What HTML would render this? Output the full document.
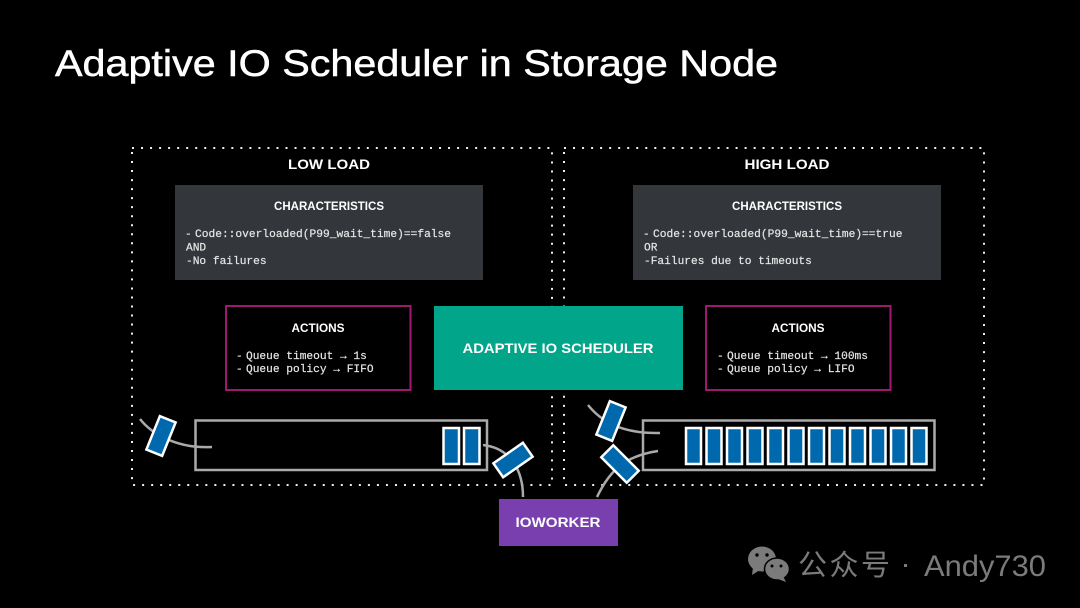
<!DOCTYPE html>
<html><head><meta charset="utf-8"><style>
html,body{margin:0;padding:0;background:#000;width:1080px;height:608px;overflow:hidden}
svg{display:block}
text{font-family:"Liberation Sans","Noto Sans CJK SC",sans-serif;fill:#fff}
.b{font-weight:bold}
.m{font-family:"Liberation Mono",monospace;font-size:11.2px;fill:#e6e6e6;stroke:#e6e6e6;stroke-width:.2}
.q{fill:#0068ad;stroke:#fff;stroke-width:2.5}
.c{fill:none;stroke:#aaa;stroke-width:2.5}
.d{fill:none;stroke:#eee;stroke-width:2;stroke-dasharray:2 7.03}
</style></head><body>
<svg width="1080" height="608" viewBox="0 0 1080 608" xmlns="http://www.w3.org/2000/svg">
<rect width="1080" height="608" fill="#000"/>
<text x="55" y="76" font-size="37" textLength="723" lengthAdjust="spacingAndGlyphs" stroke="#fff" stroke-width=".5">Adaptive IO Scheduler in Storage Node</text>

<path class="d" d="M132 148H552V485H132Z"/>
<path class="d" d="M564 148H984V485H564Z"/>

<text class="b" x="329" y="169" font-size="14" text-anchor="middle" textLength="82" lengthAdjust="spacingAndGlyphs">LOW LOAD</text>
<text class="b" x="787" y="169" font-size="14" text-anchor="middle" textLength="85" lengthAdjust="spacingAndGlyphs">HIGH LOAD</text>

<rect x="175" y="185" width="308" height="95" fill="#33363a"/>
<text class="b" x="329" y="210" font-size="11.5" text-anchor="middle" textLength="110" lengthAdjust="spacingAndGlyphs">CHARACTERISTICS</text>
<text class="m" x="185" y="237">-</text>
<text class="m" x="195" y="237" textLength="256">Code::overloaded(P99_wait_time)==false</text>
<text class="m" x="186" y="250.500">AND</text>
<text class="m" x="186" y="264">-No failures</text>

<rect x="633" y="185" width="308" height="95" fill="#33363a"/>
<text class="b" x="787" y="210" font-size="11.5" text-anchor="middle" textLength="110" lengthAdjust="spacingAndGlyphs">CHARACTERISTICS</text>
<text class="m" x="643" y="237">-</text>
<text class="m" x="653" y="237" textLength="249.500">Code::overloaded(P99_wait_time)==true</text>
<text class="m" x="644" y="250.500">OR</text>
<text class="m" x="644" y="264">-Failures due to timeouts</text>

<rect x="226" y="306" width="184.500" height="84" fill="#000" stroke="#a2176f" stroke-width="2"/>
<text class="b" x="318" y="332" font-size="11.5" text-anchor="middle" textLength="53" lengthAdjust="spacingAndGlyphs">ACTIONS</text>
<text class="m" x="236" y="359">-</text>
<text class="m" x="246" y="359">Queue timeout → 1s</text>
<text class="m" x="236" y="372">-</text>
<text class="m" x="246" y="372">Queue policy → FIFO</text>

<rect x="706" y="306" width="184.500" height="84" fill="#000" stroke="#a2176f" stroke-width="2"/>
<text class="b" x="798" y="332" font-size="11.5" text-anchor="middle" textLength="53" lengthAdjust="spacingAndGlyphs">ACTIONS</text>
<text class="m" x="717" y="359">-</text>
<text class="m" x="727" y="359">Queue timeout → 100ms</text>
<text class="m" x="717" y="372">-</text>
<text class="m" x="727" y="372">Queue policy → LIFO</text>

<rect x="434" y="306" width="249" height="84" fill="#00a58a"/>
<text class="b" x="558" y="353" font-size="14" text-anchor="middle" textLength="191" lengthAdjust="spacingAndGlyphs">ADAPTIVE IO SCHEDULER</text>

<rect x="499" y="499" width="119" height="47" fill="#7a3fae"/>
<text class="b" x="558" y="527" font-size="13.500" text-anchor="middle" textLength="85" lengthAdjust="spacingAndGlyphs">IOWORKER</text>

<!-- left queue -->
<rect x="195.500" y="420.500" width="291.500" height="49.500" fill="#000" stroke="#aaa" stroke-width="2.500"/>
<rect class="q" x="443.500" y="428" width="15.500" height="36"/>
<rect class="q" x="464" y="428" width="15.500" height="36"/>
<path class="c" d="M140 419C150 432 175 449 212 447"/>
<path class="c" d="M483 445C510 448 523 470 523 497"/>
<rect class="q" x="152.500" y="418" width="17" height="36" transform="rotate(22 161 436)"/>
<rect class="q" x="504.500" y="442" width="17" height="36" transform="rotate(55 513 460)"/>

<!-- right queue -->
<rect x="643" y="420.500" width="291.500" height="49.500" fill="#000" stroke="#aaa" stroke-width="2.500"/>
<g>
<rect class="q" x="686" y="428" width="15" height="36"/>
<rect class="q" x="706.500" y="428" width="15" height="36"/>
<rect class="q" x="727" y="428" width="15" height="36"/>
<rect class="q" x="747.500" y="428" width="15" height="36"/>
<rect class="q" x="768" y="428" width="15" height="36"/>
<rect class="q" x="788.500" y="428" width="15" height="36"/>
<rect class="q" x="809" y="428" width="15" height="36"/>
<rect class="q" x="829.500" y="428" width="15" height="36"/>
<rect class="q" x="850" y="428" width="15" height="36"/>
<rect class="q" x="870.500" y="428" width="15" height="36"/>
<rect class="q" x="891" y="428" width="15" height="36"/>
<rect class="q" x="911.500" y="428" width="15" height="36"/>
</g>
<path class="c" d="M588 405C600 420 620 434 660 433"/>
<path class="c" d="M658 451C625 456 610 470 597 497"/>
<rect class="q" x="602.500" y="403" width="17" height="36" transform="rotate(22 611 421)"/>
<rect class="q" x="611.500" y="446" width="17" height="36" transform="rotate(-45 620 464)"/>

<!-- watermark -->
<g fill="#7b7b7b">
<ellipse cx="762" cy="559" rx="14" ry="12.500"/>
<path d="M753 567l-1 8 8-5z"/>
<ellipse cx="777" cy="569" rx="12.500" ry="11" stroke="#000" stroke-width="1.500"/>
<path d="M783 576l3 6-8-3z"/>
</g>
<g fill="#000">
<circle cx="757" cy="555" r="1.700"/><circle cx="767" cy="555" r="1.700"/>
<circle cx="772" cy="566" r="1.500"/><circle cx="781" cy="566" r="1.500"/>
</g>
<text x="798" y="575" font-size="29" textLength="92" style="fill:#7b7b7b">公众号</text>
<rect x="904" y="564" width="3" height="3" fill="#7b7b7b"/>
<text x="924" y="576" font-size="30" textLength="122" lengthAdjust="spacingAndGlyphs" style="fill:#7b7b7b">Andy730</text>
</svg>
</body></html>
